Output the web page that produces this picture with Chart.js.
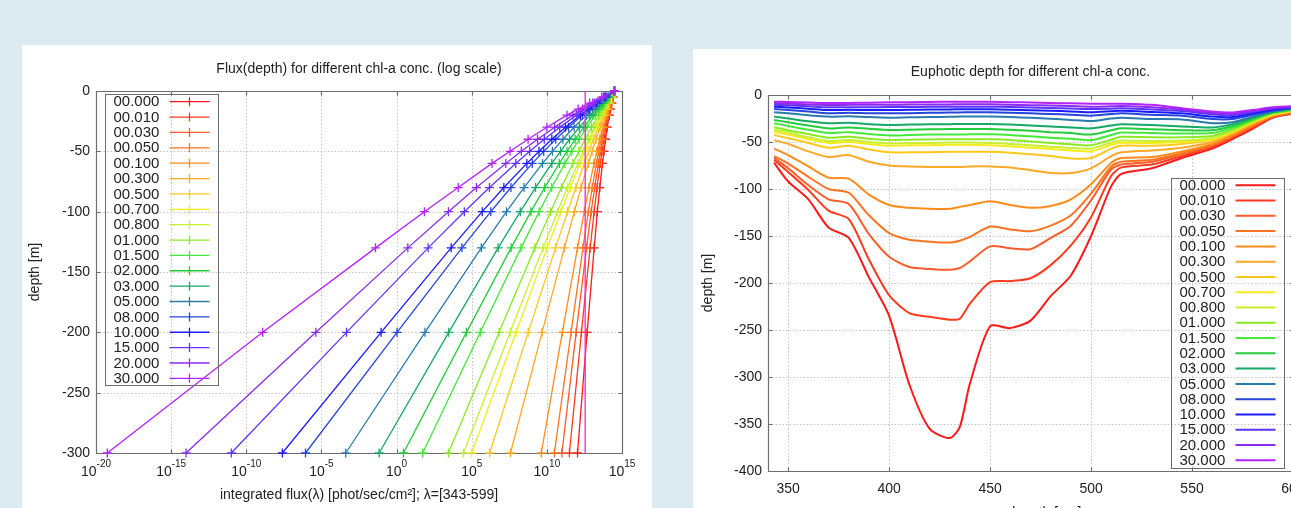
<!DOCTYPE html>
<html>
<head>
<meta charset="utf-8">
<script src="https://cdn.jsdelivr.net/npm/chart.js@4.4.0/dist/chart.umd.min.js"></script>
<style>
  html, body { margin: 0; padding: 0; width: 1291px; height: 508px; overflow: hidden; background: #dceaf2; }
  .panel { position: absolute; background: #fff; }
  #p1 { left: 22px; top: 45px; width: 630px; height: 480px; }
  #p2 { left: 693px; top: 49px; width: 630px; height: 480px; }
  canvas { display: block; }
</style>
</head>
<body>
<div class="panel" id="p1"><canvas id="fluxChart" width="630" height="480"></canvas></div>
<div class="panel" id="p2"><canvas id="euphoticChart" width="630" height="480"></canvas></div>
<script>
// ---- shared: chl-a concentrations and their colours ----
const chlLabels = ['00.000', '00.010', '00.030', '00.050', '00.100', '00.300', '00.500', '00.700', '00.800', '01.000',
                   '01.500', '02.000', '03.000', '05.000', '08.000', '10.000', '15.000', '20.000', '30.000'];
const chlColors = ['#ff1a1a', '#ff3a1e', '#ff5a2a', '#ff7422', '#ff8c1a', '#ffa826', '#ffc81a', '#f4ec1c', '#c8f030', '#8aea26',
                   '#44e83a', '#22cc3c', '#16a866', '#2a7cae', '#2446dc', '#1a1aff', '#5c34ff', '#8a2cec', '#b422ff'];

// ---- left chart: log10 of integrated flux at each depth ----
const depthLevels = [0, -5, -10, -15, -20, -30, -40, -50, -60, -80, -100, -130, -200, -300];
const flux_000  = [14.5, 14.41, 14.32, 14.24, 14.16, 14.02, 13.90, 13.80, 13.70, 13.52, 13.36, 13.15, 12.68, 12.04];
const flux_001  = [14.5, 14.39, 14.29, 14.19, 14.10, 13.94, 13.80, 13.67, 13.55, 13.34, 13.15, 12.88, 12.30, 11.50];
const flux_003  = [14.5, 14.38, 14.26, 14.15, 14.05, 13.87, 13.71, 13.56, 13.43, 13.18, 12.95, 12.64, 11.95, 11.00];
const flux_005  = [14.5, 14.36, 14.24, 14.12, 14.00, 13.80, 13.62, 13.45, 13.30, 13.02, 12.76, 12.40, 11.61, 10.50];
const flux_010  = [14.5, 14.35, 14.21, 14.08, 13.96, 13.73, 13.52, 13.32, 13.14, 12.80, 12.49, 12.04, 11.03, 9.63];
const flux_030  = [14.5, 14.32, 14.15, 13.99, 13.84, 13.54, 13.27, 13.01, 12.76, 12.28, 11.83, 11.17, 9.68, 7.58];
const flux_050  = [14.5, 14.30, 14.11, 13.93, 13.75, 13.41, 13.09, 12.79, 12.49, 11.93, 11.38, 10.58, 8.76, 6.19];
const flux_070  = [14.5, 14.27, 14.06, 13.85, 13.64, 13.26, 12.89, 12.55, 12.21, 11.56, 10.94, 10.02, 7.95, 5.00];
const flux_080  = [14.5, 14.26, 14.02, 13.80, 13.59, 13.17, 12.79, 12.42, 12.06, 11.37, 10.71, 9.75, 7.56, 4.45];
const flux_100  = [14.5, 14.22, 13.95, 13.69, 13.45, 12.98, 12.54, 12.13, 11.73, 10.97, 10.25, 9.20, 6.82, 3.45];
const flux_150  = [14.5, 14.16, 13.83, 13.52, 13.22, 12.67, 12.15, 11.66, 11.20, 10.32, 9.49, 8.28, 5.57, 1.74];
const flux_200  = [14.5, 14.12, 13.75, 13.40, 13.07, 12.46, 11.88, 11.34, 10.83, 9.86, 8.94, 7.62, 4.65, 0.46];
const flux_300  = [14.5, 14.06, 13.64, 13.24, 12.87, 12.16, 11.51, 10.91, 10.33, 9.25, 8.23, 6.76, 3.47, -1.16];
const flux_500  = [14.5, 13.99, 13.51, 13.05, 12.62, 11.81, 11.07, 10.37, 9.71, 8.48, 7.31, 5.64, 1.89, -3.38];
const flux_800  = [14.5, 13.92, 13.37, 12.85, 12.36, 11.44, 10.59, 9.79, 9.03, 7.61, 6.27, 4.35, 0.03, -6.06];
const flux_1000 = [14.5, 13.88, 13.30, 12.75, 12.23, 11.24, 10.33, 9.48, 8.67, 7.14, 5.70, 3.63, -1.03, -7.60];
const flux_1500 = [14.5, 13.82, 13.17, 12.56, 11.97, 10.86, 9.83, 8.86, 7.93, 6.18, 4.51, 2.10, -3.33, -11.00];
const flux_2000 = [14.5, 13.76, 13.05, 12.38, 11.73, 10.52, 9.38, 8.30, 7.27, 5.31, 3.45, 0.75, -5.37, -14.01];
const flux_3000 = [14.5, 13.66, 12.85, 12.08, 11.34, 10.00, 8.75, 7.55, 6.35, 4.10, 1.85, -1.40, -8.91, -19.25];
const fluxRows = [flux_000, flux_001, flux_003, flux_005, flux_010, flux_030, flux_050, flux_070, flux_080, flux_100,
                  flux_150, flux_200, flux_300, flux_500, flux_800, flux_1000, flux_1500, flux_2000, flux_3000];
const markerLineLog = 12.55;           // plain vertical line, no key entry
const markerLineDepths = [0, -300];
const fluxExpTicks = [-20, -15, -10, -5, 0, 5, 10, 15];
const fluxDepthTicks = [0, -50, -100, -150, -200, -250, -300];

// ---- right chart: euphotic depth per wavelength ----
const wavelengths = [343, 350, 360, 370, 380, 390, 400, 410, 420, 430, 435, 440, 450, 460, 470, 480, 490, 500, 510, 515, 530, 545, 560, 570, 580, 590, 599];
const zeu_000  = [-72, -92, -111, -141, -152, -194, -235, -308, -355, -365, -353, -307, -246, -248, -240, -214, -192, -150, -97, -84, -78, -67, -57, -47, -36, -24, -20];
const zeu_001  = [-69, -82, -101, -123, -132, -175, -213, -232, -236, -239, -238, -222, -199, -198, -195, -181, -160, -130, -86, -77, -74, -65, -55, -45.5, -34.5, -23.5, -19.5];
const zeu_003  = [-67, -78, -96, -111, -116, -148, -172, -183, -185, -186, -184, -177, -161, -163, -164, -152, -139, -112, -79, -74, -71, -63, -54, -44.5, -33.5, -23, -19];
const zeu_005  = [-65, -73, -87, -100, -104, -128, -147, -154, -156, -157, -155, -151, -140, -143, -145, -139, -128, -105, -76, -71, -69, -62, -53, -43.5, -32.5, -22.5, -19];
const zeu_010  = [-57, -64, -76, -88, -89, -106, -117, -120, -121, -121, -119, -117, -113, -117, -120, -118, -111, -95, -72, -67, -66, -60, -52, -42.5, -31.5, -22, -18.5];
const zeu_030  = [-48, -52, -60, -66, -64, -71, -75, -76, -76.5, -76.5, -76.5, -76, -76, -77, -80, -83, -83, -78, -65, -61, -59, -56, -50, -41, -30.5, -21.5, -18];
const zeu_050  = [-42.6, -46, -51, -56, -54, -58, -61, -61, -61, -60.5, -60.5, -60.5, -60.5, -61.5, -63, -65, -67.5, -67, -57, -54, -54, -52, -48, -40, -29.5, -21, -17.5];
const zeu_070  = [-39, -42, -47, -51, -50, -52, -54, -53.5, -53.5, -53, -53, -53, -53.5, -54.5, -56, -57.5, -59, -60, -53, -51, -51, -50, -47, -39, -29, -20.5, -17];
const zeu_080  = [-37, -40, -45, -49, -48, -50, -51.5, -51, -51, -50.5, -50.5, -50.5, -51, -52, -53.5, -55, -56.5, -57, -50.5, -48.5, -49, -48.5, -46, -38.5, -28.5, -20, -17];
const zeu_100  = [-34.4, -37.5, -41.5, -45.5, -44.5, -46.5, -48, -47.5, -47.3, -47, -47, -47, -47.2, -48, -49.5, -51, -52.5, -53.5, -47.5, -44.5, -45, -45, -43.5, -37, -27.5, -19.5, -16.5];
const zeu_150  = [-30, -33, -37, -40.5, -39.5, -41.5, -43, -42.5, -42, -42, -42, -41.8, -41.8, -42.5, -44, -45.5, -46.5, -48, -42.5, -40, -40.5, -41, -40.5, -35, -26.5, -19, -16];
const zeu_200  = [-26.6, -29, -32.5, -35.5, -34.5, -36, -37.2, -37, -36.5, -36.2, -36.2, -36.2, -36.2, -37, -38, -39.5, -40.5, -42, -37.5, -35.5, -36.5, -37.5, -37.5, -33, -25.5, -18.5, -15.5];
const zeu_300  = [-23, -25, -28, -30.1, -29.5, -31, -31.9, -31.5, -31.2, -31, -30.9, -30.9, -30.9, -31.5, -32.5, -33.5, -34.5, -35.5, -32.5, -31.2, -32, -33.5, -34.5, -31, -24, -18, -15];
const zeu_500  = [-18.4, -19.5, -21.5, -23, -22.5, -23.5, -24.1, -23.8, -23.5, -23.2, -23, -23, -23, -23.5, -24.3, -25.3, -26.5, -27.7, -25, -24.1, -25.5, -26, -30, -29, -23, -17.5, -14.5];
const zeu_800  = [-15, -16, -17.5, -19.5, -19, -19.5, -19.5, -19.3, -19, -18.7, -18.5, -18.4, -18.4, -18.9, -19.5, -20.2, -21, -22, -20.3, -19.5, -21, -22, -25.5, -25.5, -21, -16.5, -14];
const zeu_1000 = [-12.4, -13.2, -14.5, -16, -15.7, -16, -16, -15.8, -15.5, -15.3, -15.2, -15.2, -15.2, -15.6, -16.1, -16.8, -17.5, -18.4, -17.3, -16.7, -18, -19.5, -23, -23.5, -19.5, -15.5, -13.5];
const zeu_1500 = [-10.3, -11, -12, -13.1, -12.9, -13, -12.8, -12.7, -12.6, -12.5, -12.4, -12.4, -12.4, -12.8, -13.3, -13.8, -14.3, -14.9, -14.5, -14.2, -15.3, -17, -20.5, -21.5, -18, -14.5, -13];
const zeu_2000 = [-8.6, -9.2, -10, -10.6, -10.5, -10.5, -10.3, -10.2, -10.1, -10, -9.9, -9.9, -9.9, -10.3, -10.8, -11.2, -11.7, -12.4, -12, -11.7, -13, -15.5, -19, -20, -17, -14, -12.5];
const zeu_3000 = [-7.1, -7.5, -8, -8.5, -8.4, -8.2, -7.8, -7.6, -7.4, -7.2, -7.1, -7.1, -7.1, -7.6, -8, -8.5, -8.9, -9.2, -9.3, -9.2, -10.5, -14, -17.5, -18.5, -16, -13, -12];
const zeuRows = [zeu_000, zeu_001, zeu_003, zeu_005, zeu_010, zeu_030, zeu_050, zeu_070, zeu_080, zeu_100,
                 zeu_150, zeu_200, zeu_300, zeu_500, zeu_800, zeu_1000, zeu_1500, zeu_2000, zeu_3000];
const waveTicks = [350, 400, 450, 500, 550, 600];
const zeuDepthTicks = [0, -50, -100, -150, -200, -250, -300, -350, -400];

const FONT = '"Liberation Sans", Arial, Helvetica, sans-serif';
const TEXT = '#222';
Chart.defaults.font.family = FONT;
Chart.defaults.color = TEXT;

// gnuplot-ish frame, dotted grid, mirrored inward ticks, title, key box
function gnuplotLook(o) {
  return {
    id: 'gnuplotLook',
    beforeDatasetsDraw(chart) {
      const { ctx, chartArea: a } = chart;
      const xs = chart.scales.x, ys = chart.scales.y;
      const L = Math.round(a.left) + 0.5, R = Math.round(a.right) + 0.5;
      const T = Math.round(a.top) + 0.5, B = Math.round(a.bottom) + 0.5;
      ctx.save();
      ctx.lineWidth = 1;
      ctx.strokeStyle = '#c4c4c4';
      ctx.setLineDash([1.5, 2]);
      ctx.beginPath();
      xs.ticks.forEach(t => {
        const px = Math.round(xs.getPixelForValue(t.value)) + 0.5;
        if (px > L + 2 && px < R - 2) { ctx.moveTo(px, T); ctx.lineTo(px, B); }
      });
      ys.ticks.forEach(t => {
        const py = Math.round(ys.getPixelForValue(t.value)) + 0.5;
        if (py > T + 2 && py < B - 2) { ctx.moveTo(L, py); ctx.lineTo(R, py); }
      });
      ctx.stroke();
      ctx.setLineDash([]);
      ctx.strokeStyle = '#6e6e6e';
      ctx.lineWidth = 1.2;
      ctx.beginPath();
      ctx.rect(L, T, R - L, B - T);
      xs.ticks.forEach(t => {
        const px = Math.round(xs.getPixelForValue(t.value)) + 0.5;
        ctx.moveTo(px, B); ctx.lineTo(px, B - 4);
        ctx.moveTo(px, T); ctx.lineTo(px, T + 4);
      });
      ys.ticks.forEach(t => {
        const py = Math.round(ys.getPixelForValue(t.value)) + 0.5;
        ctx.moveTo(L, py); ctx.lineTo(L + 4, py);
        ctx.moveTo(R, py); ctx.lineTo(R - 4, py);
      });
      ctx.stroke();
      ctx.restore();
    },
    afterDraw(chart) {
      const { ctx, chartArea: a } = chart;
      const xs = chart.scales.x;
      ctx.save();
      ctx.fillStyle = TEXT;
      // title
      ctx.font = '14px ' + FONT;
      ctx.textAlign = 'center';
      ctx.textBaseline = 'middle';
      ctx.fillText(o.title, (a.left + a.right) / 2, o.titleY);
      // x tick labels
      ctx.textBaseline = 'alphabetic';
      xs.ticks.forEach(t => {
        const px = xs.getPixelForValue(t.value);
        if (o.logTicks) {
          const exp = String(Math.round(Math.log10(t.value)));
          ctx.font = '14px ' + FONT;
          const w1 = ctx.measureText('10').width;
          ctx.font = '10px ' + FONT;
          const w2 = ctx.measureText(exp).width;
          const x0 = px - (w1 + w2) / 2;
          ctx.textAlign = 'left';
          ctx.font = '14px ' + FONT;
          ctx.fillText('10', x0, a.bottom + 23);
          ctx.font = '10px ' + FONT;
          ctx.fillText(exp, x0 + w1, a.bottom + 14);
        } else {
          ctx.textAlign = 'center';
          ctx.font = '14px ' + FONT;
          ctx.fillText(String(t.value), px, a.bottom + 21.5);
        }
      });
      // key
      const rowH = o.keyRow, n = chart.data.datasets.filter(d => d.label).length;
      const w = 113, h = (n - 1) * rowH + 14.8;
      const bx = o.keyLeft ? a.left + 9 : a.right - 9 - w;
      const by = o.keyLeft ? a.top + 3.3 : a.bottom - 3.3 - h;
      ctx.strokeStyle = '#6e6e6e';
      ctx.lineWidth = 1;
      ctx.strokeRect(Math.round(bx) + 0.5, Math.round(by) + 0.5, w, Math.round(h));
      ctx.font = '15px ' + FONT;
      ctx.textAlign = 'left';
      ctx.textBaseline = 'middle';
      chart.data.datasets.forEach((ds, i) => {
        if (!ds.label) return;
        const ry = by + 7.4 + i * rowH;
        ctx.fillStyle = TEXT;
        ctx.fillText(ds.label, bx + 8.5, ry + 0.5);
        ctx.strokeStyle = ds.borderColor;
        ctx.lineWidth = ds.borderWidth;
        ctx.beginPath();
        ctx.moveTo(bx + 64.5, ry); ctx.lineTo(bx + 104.5, ry);
        if (o.keyMarker) {
          const cx = bx + 84.5;
          ctx.moveTo(cx, ry - 4.5); ctx.lineTo(cx, ry + 4.5);
        }
        ctx.stroke();
      });
      ctx.restore();
    }
  };
}

// ---- left chart ----
const fluxDatasets = chlLabels.map((label, i) => ({
  label,
  data: depthLevels.map((d, j) => ({ x: Math.pow(10, fluxRows[i][j]), y: d })),
  borderColor: chlColors[i],
  backgroundColor: chlColors[i],
  borderWidth: 1.3,
  pointStyle: 'cross',
  pointRadius: 4.5,
  pointBorderWidth: 1.3,
  pointBorderColor: chlColors[i],
  tension: 0,
  clip: false,
  order: chlLabels.length - i
}));
fluxDatasets.push({
  label: '',
  data: markerLineDepths.map(d => ({ x: Math.pow(10, markerLineLog), y: d })),
  borderColor: '#ff20e0',
  borderWidth: 1.3,
  pointRadius: 0,
  order: 0
});

new Chart(document.getElementById('fluxChart'), {
  type: 'line',
  data: { datasets: fluxDatasets },
  options: {
    responsive: false,
    animation: false,
    devicePixelRatio: 1,
    events: [],
    layout: { padding: { top: 46, right: 30, left: 0, bottom: 0 } },
    plugins: { legend: { display: false }, title: { display: false }, tooltip: { enabled: false } },
    scales: {
      x: {
        type: 'logarithmic',
        min: 1e-20, max: 1e15,
        afterBuildTicks: s => { s.ticks = fluxExpTicks.map(e => ({ value: Math.pow(10, e) })); },
        afterFit: s => { s.height = 72; },
        grid: { display: false }, border: { display: false },
        ticks: { display: false },
        title: { display: true, text: 'integrated flux(λ) [phot/sec/cm²]; λ=[343-599]', font: { size: 14 }, color: TEXT, padding: { top: 0, bottom: 21 } }
      },
      y: {
        type: 'linear',
        min: -300, max: 0,
        afterBuildTicks: s => { s.ticks = fluxDepthTicks.map(v => ({ value: v })); },
        afterFit: s => { s.width = 74; },
        grid: { display: false, drawTicks: false }, border: { display: false },
        ticks: { font: { size: 14 }, color: TEXT, padding: 6 },
        title: { display: true, text: 'depth [m]', font: { size: 14 }, color: TEXT, padding: { top: 5, bottom: 0 } }
      }
    }
  },
  plugins: [gnuplotLook({ title: 'Flux(depth) for different chl-a conc. (log scale)', titleY: 24, logTicks: true, keyLeft: true, keyRow: 15.37, keyMarker: true })]
});

// ---- right chart ----
const zeuDatasets = chlLabels.map((label, i) => ({
  label,
  data: wavelengths.map((w, j) => ({ x: w, y: zeuRows[i][j] })),
  borderColor: chlColors[i],
  backgroundColor: chlColors[i],
  borderWidth: 2,
  pointRadius: 0,
  tension: 0.25,
  order: chlLabels.length - i
}));

new Chart(document.getElementById('euphoticChart'), {
  type: 'line',
  data: { datasets: zeuDatasets },
  options: {
    responsive: false,
    animation: false,
    devicePixelRatio: 1,
    events: [],
    layout: { padding: { top: 46, right: 30, left: 0, bottom: 0 } },
    plugins: { legend: { display: false }, title: { display: false }, tooltip: { enabled: false } },
    scales: {
      x: {
        type: 'linear',
        min: 340, max: 600,
        afterBuildTicks: s => { s.ticks = waveTicks.map(v => ({ value: v })); },
        afterFit: s => { s.height = 58; },
        grid: { display: false }, border: { display: false },
        ticks: { display: false },
        title: { display: true, text: 'wavelength [nm]', font: { size: 14 }, color: TEXT, padding: { top: 0, bottom: 7.5 } }
      },
      y: {
        type: 'linear',
        min: -400, max: 0,
        afterBuildTicks: s => { s.ticks = zeuDepthTicks.map(v => ({ value: v })); },
        afterFit: s => { s.width = 75; },
        grid: { display: false, drawTicks: false }, border: { display: false },
        ticks: { font: { size: 14 }, color: TEXT, padding: 6 },
        title: { display: true, text: 'depth [m]', font: { size: 14 }, color: TEXT, padding: { top: 7, bottom: 0 } }
      }
    }
  },
  plugins: [gnuplotLook({ title: 'Euphotic depth for different chl-a conc.', titleY: 23, logTicks: false, keyLeft: false, keyRow: 15.28, keyMarker: false })]
});
</script>
</body>
</html>
